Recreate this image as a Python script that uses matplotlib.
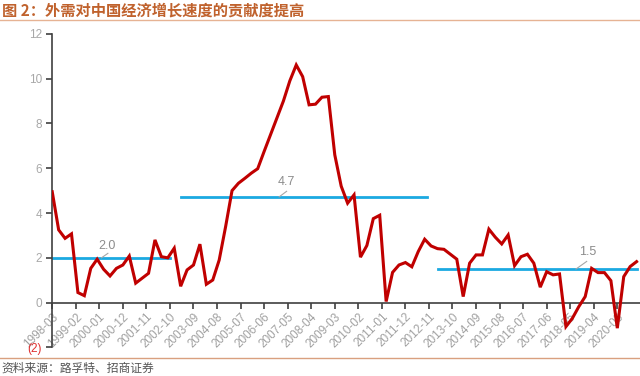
import numpy as np
import matplotlib
matplotlib.use("Agg")
import matplotlib.pyplot as plt
from matplotlib.lines import Line2D

plt.rcParams['font.family'] = ['Liberation Sans', 'Noto Sans CJK SC', 'DejaVu Sans']
plt.rcParams['axes.unicode_minus'] = False

# --- data ---
start = "1998-03"   # first quarter shown, points every 3 months
values = [4.95, 3.25, 2.87, 3.07, 0.45, 0.31, 1.53, 1.94, 1.49, 1.19,
          1.53, 1.68, 2.08, 0.87, 1.09, 1.31, 2.80, 2.05, 2.00, 2.43,
          0.73, 1.46, 1.68, 2.61, 0.82, 1.01, 1.90, 3.39, 5.00, 5.33,
          5.55, 5.78, 5.98, 6.75, 7.50, 8.25, 9.00, 9.90, 10.61, 10.09,
          8.83, 8.86, 9.17, 9.20, 6.60, 5.20, 4.44, 4.81, 2.03, 2.55,
          3.75, 3.90, 0.05, 1.35, 1.68, 1.79, 1.60, 2.28, 2.83, 2.53,
          2.41, 2.38, 2.16, 1.94, 0.27, 1.76, 2.13, 2.13, 3.28, 2.92,
          2.62, 3.02, 1.65, 2.05, 2.16, 1.76, 0.69, 1.38, 1.24, 1.28,
          -1.07, -0.70, -0.18, 0.27, 1.53, 1.34, 1.34, 0.98, -1.14, 1.16,
          1.61, 1.83]

tick_labels = ["1998-03", "1999-02", "2000-01", "2000-12", "2001-11", "2002-10",
               "2003-09", "2004-08", "2005-07", "2006-06", "2007-05", "2008-04",
               "2009-03", "2010-02", "2011-01", "2011-12", "2012-11", "2013-10",
               "2014-09", "2015-08", "2016-07", "2017-06", "2018-05", "2019-04",
               "2020-03"]

mean_values = [2.0, 4.7, 1.5]
mean_starts = ["1998-03", "2003-03", "2013-03"]
mean_ends = ["2002-10", "2012-10", "2020-12"]


def month_index(s):
    y0, m0 = map(int, start.split("-"))
    y, m = map(int, s.split("-"))
    return (y - y0) * 12 + (m - m0)


x = np.arange(len(values)) * 3

# --- figure ---
fig = plt.figure(figsize=(6.4, 3.76), dpi=100)
ax = fig.add_axes([0.0806, 0.076, 0.9194, 0.834])

ax.plot(x, values, color="#C00000", lw=2.2, zorder=3, solid_joinstyle="miter")

for v, a, b in zip(mean_values, mean_starts, mean_ends):
    ax.plot([month_index(a), month_index(b)], [v, v], color="#1BA9E1", lw=2.0, zorder=2)

# mean labels with small leader strokes
lab_col = "#8C8C8C"
ann = [(2.0, 25.5, 2.52, (23, 2.0), (26, 2.2)),
       (4.7, 109.3, 5.37, (106, 4.72), (109.5, 4.97)),
       (1.5, 250.3, 2.27, (244.7, 1.5), (249.7, 1.84))]
for v, tx, ty, p0, p1 in ann:
    ax.text(tx, ty, f"{v:.1f}", color=lab_col, fontsize=9, ha="center", va="center")
    ax.plot([p0[0], p1[0]], [p0[1], p1[1]], color="#A6A6A6", lw=0.8)

ax.set_xlim(-0.3, 274.6)
ax.set_ylim(-2, 12)

for s in ["top", "right"]:
    ax.spines[s].set_visible(False)
ax.spines["bottom"].set_position(("data", 0))
ax.spines["bottom"].set_color("#404040")
ax.spines["left"].set_color("#404040")
ax.spines["bottom"].set_linewidth(1.2)
ax.spines["left"].set_linewidth(1.2)

ax.set_yticks(range(-2, 13, 2))
ax.set_yticklabels(["(2)"] + [str(v) for v in range(0, 13, 2)])
ax.get_yticklabels()[0].set_color("#E03030")
for lbl in ax.get_yticklabels()[1:]:
    lbl.set_color("#A8A8A8")
ax.tick_params(axis="y", length=4, width=1.2, color="#404040", labelsize=8.5, pad=3)

ax.set_xticks([month_index(t) for t in tick_labels])
ax.set_xticklabels(tick_labels, rotation=45, ha="right", va="top",
                   rotation_mode="anchor", color="#A0A0A0", fontsize=8.5)
ax.tick_params(axis="x", length=4, width=1.2, color="#404040", pad=2)

# title, rules and source
fig.text(0.003, 0.973, "图 2：外需对中国经济增长速度的贡献度提高", color="#C0622D",
         fontsize=11, fontweight="bold", ha="left", va="center",
         family=["Noto Sans CJK SC", "DejaVu Sans"])
fig.add_artist(Line2D([0, 1], [0.947, 0.947], color="#E6B394", lw=1.0))
fig.add_artist(Line2D([0, 1], [0.047, 0.047], color="#D9A07F", lw=1.0))
fig.text(0.002, 0.021, "资料来源：路孚特、招商证券", color="#555555",
         fontsize=8.5, ha="left", va="center",
         family=["Noto Sans CJK SC", "DejaVu Sans"])

fig.savefig("out.png", dpi=100)
